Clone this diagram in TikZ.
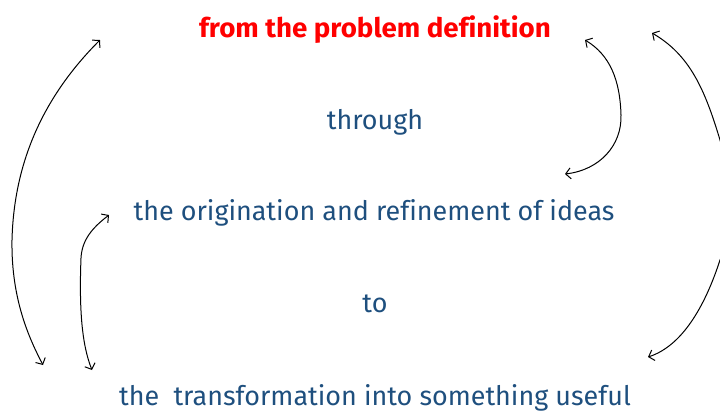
\documentclass[tikz,border=0pt]{standalone}
\usepackage{fontspec}
\setmainfont{Fira Sans}[Ligatures=NoCommon]
\newfontfamily\headfont{Fira Sans}[FakeStretch=1.03,Ligatures=NoCommon]
\usetikzlibrary{arrows.meta}
\definecolor{textblue}{HTML}{1E4F7E}
\definecolor{textred}{HTML}{FF0000}
\tikzset{
  line/.style={textblue, font=\fontsize{27}{30}\selectfont, anchor=base, inner sep=0pt},
  head/.style={textred, font=\headfont\fontsize{27}{30}\selectfont\bfseries, anchor=base, inner sep=0pt},
  loop/.style={black, line width=1bp, {Straight Barb[length=5bp,width=11bp]}-{Straight Barb[length=5bp,width=11bp]}},
}
\begin{document}
\begin{tikzpicture}[x=1bp, y=-1bp]
\clip (0,0) rectangle (720,414);
\node[head] (def) at (375,37) {from the problem definition};
\node[line] (thr) at (375,129) {through};
\node[line] (ori) at (374,220) {the origination and refinement of ideas};
\node[line] (to) at (375,312) {to};
\node[line] (tra) at (375,405) {the\ \ transformation into something useful};
% free ends of the loops
\coordinate (a1) at (100,40);
\coordinate (a2) at (43,365);
\coordinate (b1) at (109,215);
\coordinate (b2) at (92,370);
\coordinate (c1) at (585,40);
\coordinate (c2) at (565,174);
\coordinate (d1) at (652,33);
\coordinate (d2) at (648,357);
\draw[loop] (a1) .. controls (45,95) and (14,160) .. (12,240) .. controls (11,300) and (30,340) .. (a2);
\draw[loop] (b1) .. controls (92,228) and (82,240) .. (81,258) .. controls (79,310) and (82,345) .. (b2);
\draw[loop] (c1) .. controls (610,55) and (620,80) .. (621,115) .. controls (622,145) and (600,170) .. (c2);
\draw[loop] (d1) .. controls (690,55) and (705,90) .. (720,140) .. controls (735,190) and (735,230) .. (720,260) .. controls (707,300) and (685,345) .. (d2);
\end{tikzpicture}
\end{document}
